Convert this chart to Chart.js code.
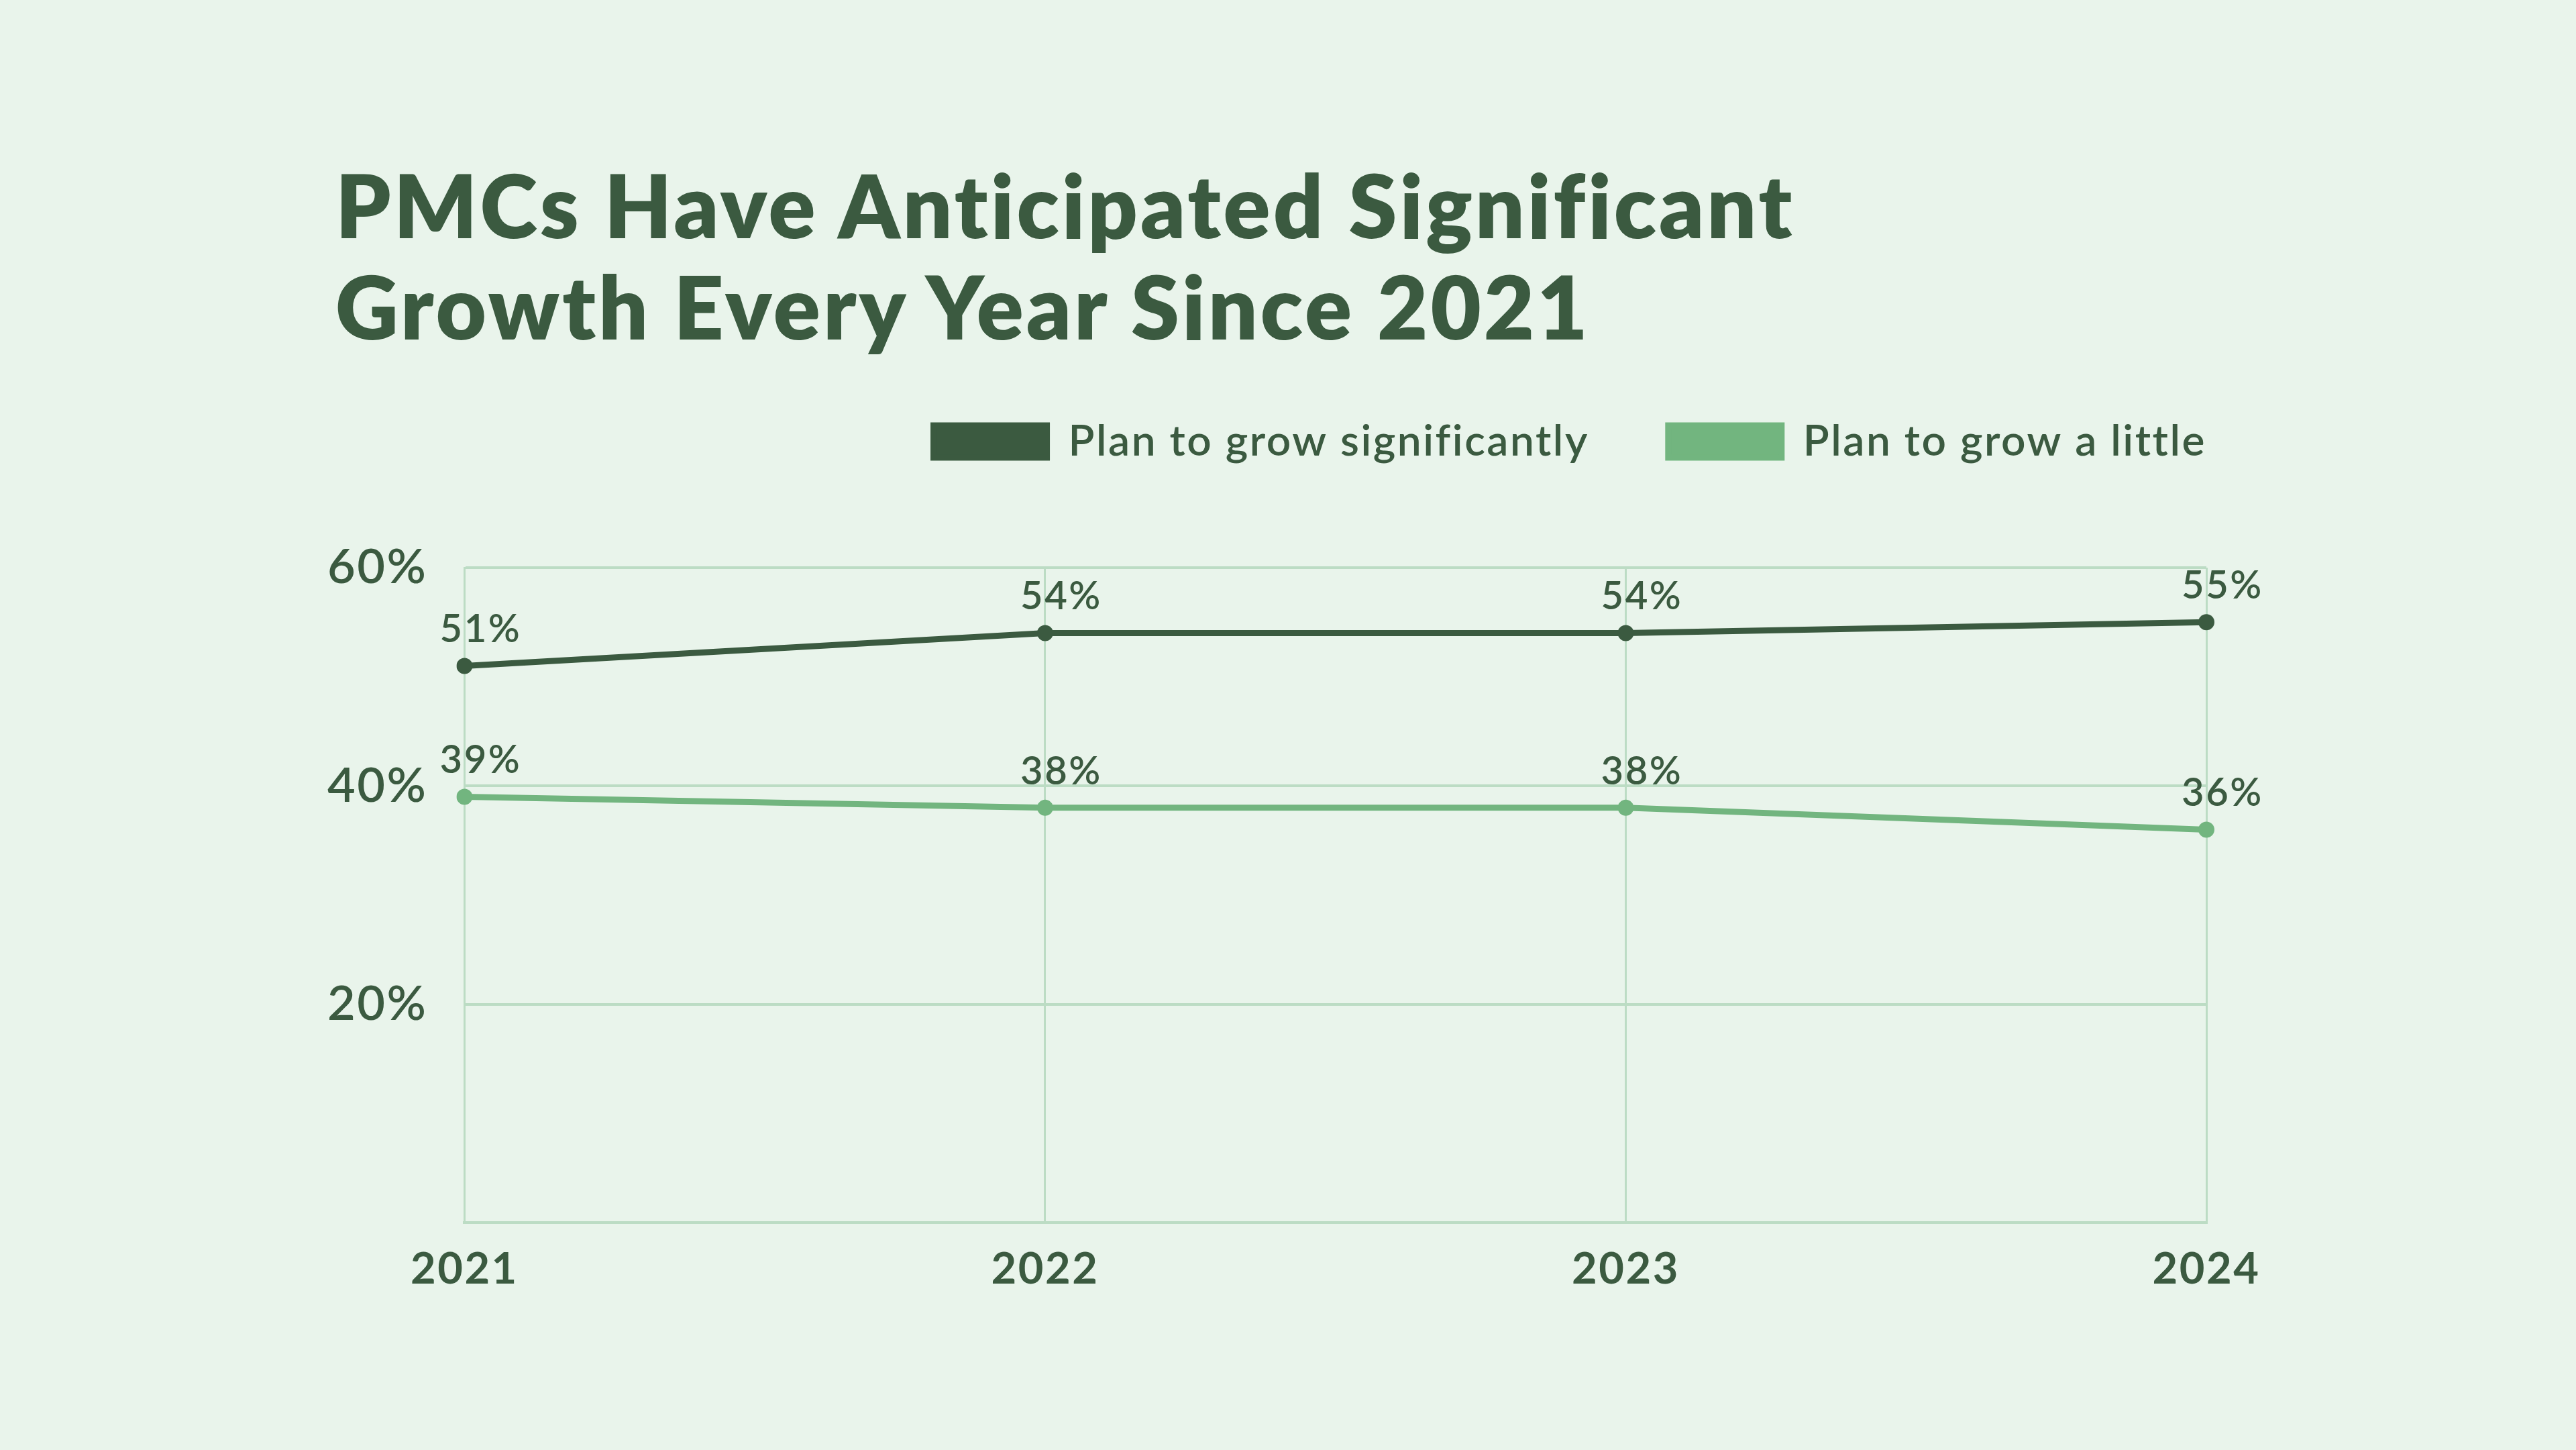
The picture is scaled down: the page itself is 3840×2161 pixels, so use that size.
<!DOCTYPE html>
<html>
<head>
<meta charset="utf-8">
<script src="https://cdn.jsdelivr.net/npm/chart.js@4.4.1/dist/chart.umd.min.js"></script>
<style>
  html, body { margin: 0; padding: 0; background: #e9f4eb; }
  body { width: 3840px; height: 2161px; position: relative; overflow: hidden; }
  h1 {
    position: absolute; left: 500px; top: 230px; margin: 0;
    font-family: "Lato", sans-serif; font-weight: 800; font-size: 130px;
    line-height: 151px; color: #3b5a40; letter-spacing: 4px;
  }
  #wrap { position: absolute; left: 0; top: 0; width: 3840px; height: 2161px; }
</style>
</head>
<body>
<h1>PMCs Have Anticipated Significant<br>Growth Every Year Since 2021</h1>
<div id="wrap"><canvas id="growthChart"></canvas></div>
<script>
const years = ["2021", "2022", "2023", "2024"];
const growSignificantly = [51, 54, 54, 55];
const growALittle = [39, 38, 38, 36];
const yTicks = [0, 20, 40, 60];

const darkGreen = "#3b5a40";
const lightGreen = "#72b57f";
const gridGreen = "#bcdcc4";
const fontFamily = "Lato, sans-serif";
const legendItemGap = 118;

// wider tracking so Lato takes the room of the original face
const tracking = {
    id: "tracking",
    beforeUpdate(chart) { chart.ctx.letterSpacing = "2.5px"; },
    beforeDraw(chart) { chart.ctx.letterSpacing = "2.5px"; }
};

// more room under the legend, and push it flush with the plot's right edge
const legendGap = {
    id: "legendGap",
    beforeInit(chart) {
        const fit = chart.legend.fit;
        chart.legend.fit = function () {
            fit.call(this);
            this.height += 146;
        };
    },
    afterLayout(chart) {
        chart.legend.left += legendItemGap;
        chart.legend.right += legendItemGap;
    }
};

// value labels above each point
const pointLabels = {
    id: "pointLabels",
    afterDatasetsDraw(chart) {
        const ctx = chart.ctx;
        ctx.save();
        ctx.font = "600 58px " + fontFamily;
        ctx.fillStyle = darkGreen;
        ctx.textAlign = "center";
        ctx.textBaseline = "middle";
        chart.data.datasets.forEach((ds, i) => {
            chart.getDatasetMeta(i).data.forEach((pt, j) => {
                ctx.fillText(ds.data[j] + "%", pt.x + 24, pt.y - 54);
            });
        });
        ctx.restore();
    }
};

const ctx = document.getElementById("growthChart").getContext("2d");
new Chart(ctx, {
    type: "line",
    data: {
        labels: years,
        datasets: [{
            label: "Plan to grow significantly",
            data: growSignificantly,
            borderColor: darkGreen,
            backgroundColor: darkGreen,
            borderWidth: 9,
            pointRadius: 12,
            pointBorderWidth: 0,
            pointBackgroundColor: darkGreen,
            tension: 0
        }, {
            label: "Plan to grow a little",
            data: growALittle,
            borderColor: lightGreen,
            backgroundColor: lightGreen,
            borderWidth: 9,
            pointRadius: 12,
            pointBorderWidth: 0,
            pointBackgroundColor: lightGreen,
            tension: 0
        }]
    },
    options: {
        animation: false,
        responsive: true,
        maintainAspectRatio: false,
        devicePixelRatio: 1,
        layout: { padding: { left: 433, right: 551, top: 508, bottom: 199 } },
        plugins: {
            legend: {
                position: "top",
                align: "end",
                labels: {
                    boxWidth: 169,
                    boxHeight: 48,
                    padding: legendItemGap,
                    color: darkGreen,
                    font: { family: fontFamily, size: 64, weight: "600" }
                }
            },
            tooltip: { enabled: false }
        },
        scales: {
            x: {
                grid: { color: gridGreen, lineWidth: 3, drawTicks: false },
                border: { color: gridGreen, width: 4 },
                ticks: {
                    color: darkGreen, padding: 31,
                    font: { family: fontFamily, size: 65, weight: "700" }
                }
            },
            y: {
                min: 0,
                max: 60,
                afterBuildTicks(axis) { axis.ticks = yTicks.map(v => ({ value: v })); },
                grid: { color: gridGreen, lineWidth: 4, drawTicks: false },
                border: { color: gridGreen, width: 3 },
                ticks: {
                    color: darkGreen, padding: 55,
                    font: { family: fontFamily, size: 72, weight: "600" },
                    callback: v => (v === 0 ? "" : v + "%")
                }
            }
        }
    },
    plugins: [tracking, legendGap, pointLabels]
});
</script>
</body>
</html>
